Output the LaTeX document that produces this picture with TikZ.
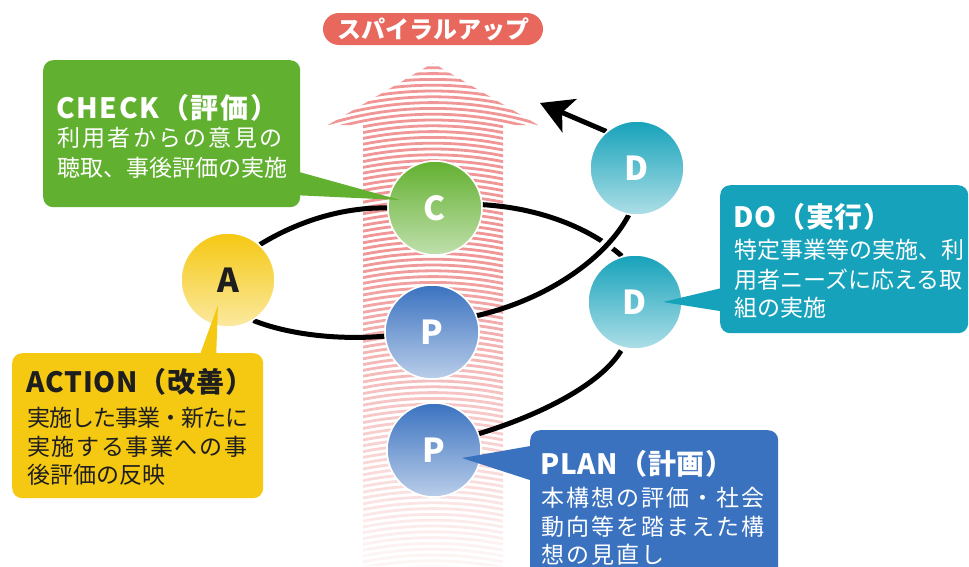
\documentclass[tikz,border=0pt]{standalone}
\usepackage{fontspec}
\usetikzlibrary{arrows.meta,calc}
\newfontfamily\jp{Noto Sans CJK JP}
\definecolor{cgreen}{RGB}{98,176,48}
\definecolor{cyellow}{RGB}{245,200,18}
\definecolor{cteal}{RGB}{22,162,186}
\definecolor{cblue}{RGB}{58,114,192}
\definecolor{csalmon}{RGB}{232,104,94}
\definecolor{cstripe}{RGB}{240,150,150}
\definecolor{ctext}{RGB}{30,30,30}
\newcommand\lsp[2]{{\addfontfeature{LetterSpace=#1}#2}}
\begin{document}
\begin{tikzpicture}[x=1pt,y=-1pt,
  ball/.style={circle, minimum size=94pt, inner sep=0pt, draw=white, line width=1.5pt,
    font=\jp\bfseries\fontsize{33}{33}\selectfont, text=white},
  gball/.style={ball, top color=cgreen, middle color=cgreen!95!white, bottom color=cgreen!40!white},
  bball/.style={ball, top color=cblue, middle color=cblue!95!white, bottom color=cblue!35!white},
  tball/.style={ball, top color=cteal, middle color=cteal!95!white, bottom color=cteal!35!white},
  yball/.style={ball, top color=cyellow, middle color=cyellow!95!white, bottom color=cyellow!40!white, text=ctext},
  cbox/.style={rectangle, rounded corners=10pt, inner sep=0pt, anchor=north west},
  spl/.style={line width=5pt, black},
  hd/.style={anchor=base west, inner sep=0pt, font=\jp\bfseries\fontsize{28}{28}\selectfont},
  bd/.style={anchor=base west, inner sep=0pt, font=\jp\fontsize{23}{23}\selectfont}
]
\useasboundingbox (0,0) rectangle (969,566);
\fill[white] (0,0) rectangle (969,566);

% striped spiral-up arrow
\begin{scope}
  \clip (433,63) -- (538,125) -- (503,125) -- (503,566) -- (363,566) -- (363,125) -- (328,125) -- cycle;
  \foreach \i in {0,...,92} {
    \draw[cstripe, line width=2.8pt] (433,{62+5.8*\i+360}) circle[radius=360pt];
  }
\end{scope}
% fade towards the bottom: stacked white bands of growing opacity
\foreach \k in {0,...,31} {
  \pgfmathsetmacro\op{min(0.9,\k*0.03)}
  \fill[white, fill opacity=\op] (355,{250+10*\k}) rectangle (545,{260+10*\k});
}

% title
\node[rectangle, rounded corners=16pt, fill=csalmon, minimum width=220pt, minimum height=32pt,
  inner sep=0pt, text=white, font=\jp\bfseries\fontsize{24}{24}\selectfont] (title) at (433,29) {スパイラルアップ};

% circle centres
\path (228,280) coordinate (Ac) (435,208) coordinate (Cc) (432,332) coordinate (Pmc)
      (434,450) coordinate (Pbc) (637,168) coordinate (Dtc) (635,302) coordinate (Dmc);
\node[yball] (A) at (Ac) {};
\node[gball] (C) at (Cc) {};
\node[bball] (Pm) at (Pmc) {};
\node[bball] (Pb) at (Pbc) {};
\node[tball] (Dt) at (Dtc) {};
\node[tball] (Dm) at (Dmc) {};

% spiral connectors
\draw[spl] (A.48) .. controls (300,220) and (345,207) .. (C.west);
\draw[spl] (A.-58) .. controls (290,335) and (340,340) .. (Pm.185);
\draw[spl] (C.4) .. controls (540,208) and (590,228) .. (Dm.106);
\begin{scope}
  \clip (585,225) rectangle (625,265);
  \draw[white, line width=13pt] (Pm.20) .. controls (545,300) and (605,260) .. (Dt.-100);
\end{scope}
\draw[spl] (Pm.20) .. controls (545,300) and (605,260) .. (Dt.-100);
\draw[spl, shorten >=3pt] (Pb.20) .. controls (540,415) and (600,385) .. (Dm.-105);
\coordinate (arrtip) at (540,103);
\draw[spl, -{Stealth[length=32pt, width=36pt, inset=8pt]}] (Dt.130) -- (arrtip);

% circles on top
\node[yball] (Atxt) at (Ac) {A};
\node[gball] (Ctxt) at (Cc) {C};
\node[bball] (Pmtxt) at (Pmc) {P};
\node[bball] (Pbtxt) at (Pbc) {P};
\node[tball] (Dttxt) at (Dtc) {D};
\node[tball] (Dmtxt) at (Dmc) {D};

% CHECK callout
\node[cbox, fill=cgreen, minimum width=257pt, minimum height=147pt] (chk) at (43,60) {};
\fill[cgreen] (292,170) -- ($(C.center)+(-35,-8)$) -- (292,195) -- cycle;
\node[hd, text=white] (chkh) at (56,118) {\lsp{6}{CHECK（評価）}};
\node[bd, text=white] (chk1) at (57,146.7) {\lsp{10}{利用者からの意見の}};
\node[bd, text=white] (chk2) at (57,176.7) {聴取、事後評価の実施};

% ACTION callout
\node[cbox, fill=cyellow, minimum width=251pt, minimum height=145pt] (act) at (12,353) {};
\fill[cyellow] (198,360) -- ($(A.center)+(-10,25)$) -- (216,360) -- cycle;
\node[hd, text=ctext] (acth) at (26,392.6) {\lsp{3}{ACTION（改善）}};
\node[bd, text=ctext] (act1) at (27,426.7) {\lsp{-4}{実施した事業・新たに}};
\node[bd, text=ctext] (act2) at (27,455.7) {\lsp{7}{実施する事業への事}};
\node[bd, text=ctext] (act3) at (27,483.7) {後評価の反映};

% DO callout
\node[cbox, fill=cteal, minimum width=248pt, minimum height=148pt] (dob) at (720,185) {};
\fill[cteal] (726,287) -- ($(Dm.center)+(28,0)$) -- (726,312) -- cycle;
\node[hd, text=white] (doh) at (733,227.6) {\lsp{3}{DO（実行）}};
\node[bd, text=white] (do1) at (734,258.7) {特定事業等の実施、利};
\node[bd, text=white] (do2) at (734,288.7) {用者ニーズに応える取};
\node[bd, text=white] (do3) at (734,316.7) {組の実施};

% PLAN callout
\node[cbox, fill=cblue, minimum width=248pt, minimum height=150pt] (pln) at (530,430) {};
\fill[cblue] (536,445) -- ($(Pb.center)+(28,8)$) -- (536,482) -- cycle;
\node[hd, text=white] (plnh) at (540,474.6) {\lsp{3}{PLAN（計画）}};
\node[bd, text=white] (pln1) at (541,506.7) {\lsp{9}{本構想の評価・社会}};
\node[bd, text=white] (pln2) at (541,535.7) {\lsp{9}{動向等を踏まえた構}};
\node[bd, text=white] (pln3) at (541,563.7) {\lsp{9}{想の見直し}};
\end{tikzpicture}
\end{document}
